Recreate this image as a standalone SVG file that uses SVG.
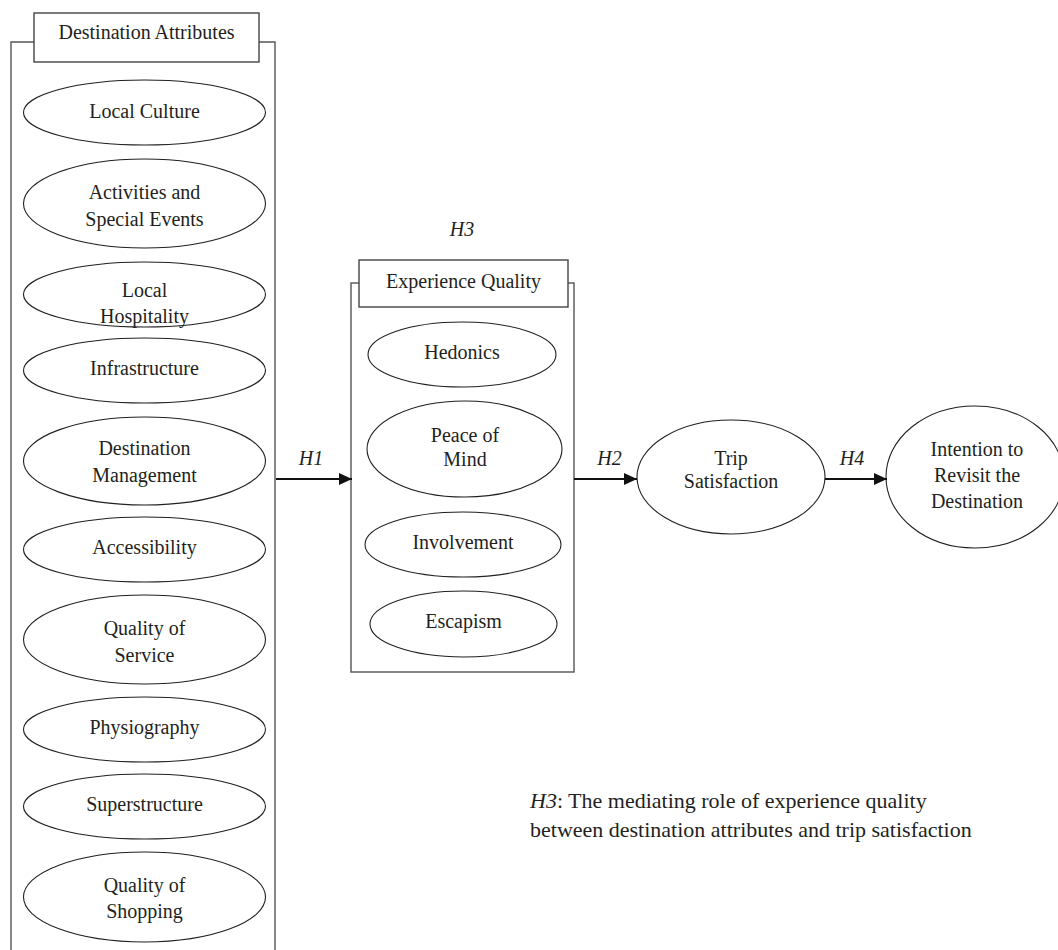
<svg xmlns="http://www.w3.org/2000/svg" width="1058" height="950" viewBox="0 0 1058 950">
<defs>
<style>
text{font-family:"Liberation Serif","Times New Roman",serif;font-size:20px;fill:#231f20;text-anchor:middle}
.it{font-style:italic}
.el{fill:#fff;stroke:#231f20;stroke-width:1.1}
.box{fill:none;stroke:#555;stroke-width:1.4}
.tb{fill:#fff;stroke:#444;stroke-width:1.4}
.arr{stroke:#111;stroke-width:2.2;fill:none}
.cap{font-size:22px;text-anchor:start}
</style>
<marker id="ah" markerUnits="userSpaceOnUse" markerWidth="14" markerHeight="14" refX="13" refY="7" orient="auto">
<path d="M0,1 L13,7 L0,13 Z" fill="#111"/>
</marker>
</defs>
<rect width="1058" height="950" fill="#fff"/>

<g id="destination-attributes">
<path class="box" d="M34,42 H11 V960 M259,42 H275 V960"/>
<rect class="tb" x="34" y="13" width="225" height="49"/>
<text x="146.5" y="39">Destination Attributes</text>
</g>

<g id="local-culture"><ellipse class="el" cx="144.5" cy="112.5" rx="121" ry="32.5"/><text x="144.5" y="118">Local Culture</text></g>
<g id="activities"><ellipse class="el" cx="144.5" cy="203.5" rx="121" ry="44.5"/><text x="144.5" y="199">Activities and</text><text x="144.5" y="226">Special Events</text></g>
<g id="local-hospitality"><ellipse class="el" cx="144.5" cy="294.5" rx="121" ry="32.5"/><text x="144.5" y="297">Local</text><text x="144.5" y="323">Hospitality</text></g>
<g id="infrastructure"><ellipse class="el" cx="144.5" cy="370.5" rx="121" ry="32.5"/><text x="144.5" y="375">Infrastructure</text></g>
<g id="destination-management"><ellipse class="el" cx="144.5" cy="461" rx="121" ry="44"/><text x="144.5" y="455">Destination</text><text x="144.5" y="482">Management</text></g>
<g id="accessibility"><ellipse class="el" cx="144.5" cy="549.5" rx="121" ry="32.5"/><text x="144.5" y="554">Accessibility</text></g>
<g id="quality-of-service"><ellipse class="el" cx="144.5" cy="639.5" rx="121" ry="44.5"/><text x="144.5" y="635">Quality of</text><text x="144.5" y="662">Service</text></g>
<g id="physiography"><ellipse class="el" cx="144.5" cy="729.5" rx="121" ry="32.5"/><text x="144.5" y="734">Physiography</text></g>
<g id="superstructure"><ellipse class="el" cx="144.5" cy="806.5" rx="121" ry="32.5"/><text x="144.5" y="811">Superstructure</text></g>
<g id="quality-of-shopping"><ellipse class="el" cx="144.5" cy="897" rx="121" ry="45"/><text x="144.5" y="892">Quality of</text><text x="144.5" y="918">Shopping</text></g>

<g id="experience-quality">
<rect class="box" x="351" y="283" width="223" height="389"/>
<rect class="tb" x="359" y="260" width="209" height="47"/>
<text x="463.5" y="288">Experience Quality</text>
</g>
<g id="hedonics"><ellipse class="el" cx="462" cy="354.5" rx="94" ry="32.5"/><text x="462" y="359">Hedonics</text></g>
<g id="peace-of-mind"><ellipse class="el" cx="464.5" cy="449" rx="97.5" ry="48"/><text x="465" y="442">Peace of</text><text x="465" y="466">Mind</text></g>
<g id="involvement"><ellipse class="el" cx="463" cy="544.5" rx="98" ry="32.5"/><text x="463" y="549">Involvement</text></g>
<g id="escapism"><ellipse class="el" cx="463.5" cy="624" rx="93.5" ry="33"/><text x="463.5" y="628">Escapism</text></g>

<g id="trip-satisfaction"><ellipse class="el" cx="731" cy="477" rx="94" ry="57"/><text x="731" y="465">Trip</text><text x="731" y="488">Satisfaction</text></g>
<g id="intention"><ellipse class="el" cx="975" cy="477" rx="89" ry="71"/><text x="977" y="456">Intention to</text><text x="977" y="482">Revisit the</text><text x="977" y="508">Destination</text></g>

<g id="connectors">
<line class="arr" x1="276" y1="479" x2="352" y2="479" marker-end="url(#ah)"/>
<line class="arr" x1="574" y1="479" x2="637" y2="479" marker-end="url(#ah)"/>
<line class="arr" x1="825" y1="479" x2="887" y2="479" marker-end="url(#ah)"/>
<text class="it" x="311" y="465">H1</text>
<text class="it" x="609.5" y="465">H2</text>
<text class="it" x="852" y="465">H4</text>
<text class="it" x="462" y="236">H3</text>
</g>

<g id="caption">
<text class="cap" x="530" y="808"><tspan font-style="italic">H3</tspan>: The mediating role of experience quality</text>
<text class="cap" x="530" y="837">between destination attributes and trip satisfaction</text>
</g>
</svg>
